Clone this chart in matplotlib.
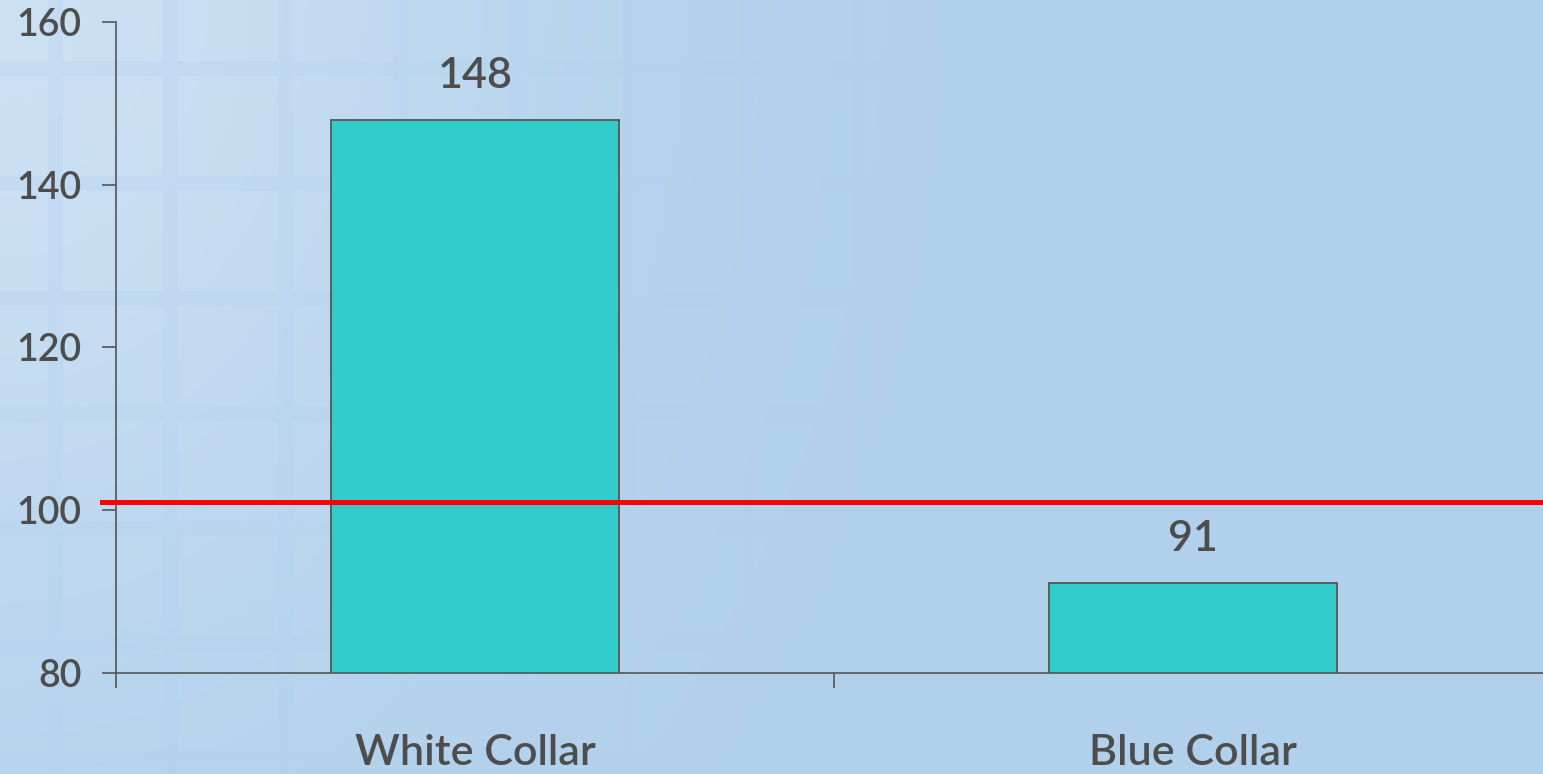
import numpy as np
import matplotlib
matplotlib.use("Agg")
import matplotlib.pyplot as plt

# data
categories = ["White Collar", "Blue Collar"]
values = [148, 91]
reference = 101
yticks = [80, 100, 120, 140, 160]

txt = "#4d4d4d"
plt.rcParams['font.family'] = ['Lato', 'DejaVu Sans']
plt.rcParams['font.weight'] = 'semibold'

fig = plt.figure(figsize=(15.43, 7.74), dpi=100)

# background: light blue with a faded window-grid pattern in the top-left
h, w = 774, 1543
yy, xx = np.mgrid[0:h, 0:w]
base = np.array([0.694, 0.816, 0.925])
light = np.array([0.80, 0.88, 0.955])
fade = np.exp(-((xx / 520.0) ** 2 + (yy / 650.0) ** 2))
img = base + (light - base) * fade[..., None]
gx = np.abs(((xx - 55) % 115) - 57.5)
gy = np.abs(((yy - 68) % 115) - 57.5)
band = ((gx > 50) | (gy > 50)).astype(float)
img = img - band[..., None] * 0.028 * fade[..., None] * np.array([1.0, 0.6, 0.2])
bg = fig.add_axes([0, 0, 1, 1], zorder=-1)
bg.imshow(np.clip(img, 0, 1), aspect="auto", interpolation="bilinear")
bg.axis("off")

ax = fig.add_axes([116 / 1543, 101 / 774, 1436 / 1543, 651 / 774])
ax.patch.set_alpha(0)

x = np.arange(len(categories))
bars = ax.bar(x, values, width=0.4, color="#33cccc", edgecolor="#555555",
              linewidth=1.3, zorder=2)
for b, v in zip(bars, values):
    ax.annotate(str(v), (b.get_x() + b.get_width() / 2, v), xytext=(0, 18),
                textcoords="offset points", ha="center", va="bottom",
                fontsize=31, color=txt)

ax.axhline(reference, xmin=-0.01, xmax=1, color="#ff0000", linewidth=3.6,
           clip_on=False, zorder=3)

ax.set_xlim(-0.5, len(categories) - 0.5)
ax.set_ylim(80, 160)
ax.set_yticks(yticks)
ax.set_xticks(np.arange(len(categories) + 1) - 0.5)
ax.set_xticklabels([])
ax.set_xticks(x, minor=True)
ax.set_xticklabels(categories, minor=True)
ax.tick_params(axis="x", which="minor", length=0, pad=44, labelsize=31,
               labelcolor=txt)
ax.tick_params(axis="x", which="major", length=11, width=1.2, color="#555555",
               direction="out")
ax.tick_params(axis="y", length=10, width=1.2, color="#555555", pad=15,
               labelsize=27, labelcolor=txt)

for s in ["top", "right"]:
    ax.spines[s].set_visible(False)
for s in ["left", "bottom"]:
    ax.spines[s].set_color("#555555")
    ax.spines[s].set_linewidth(1.2)

fig.savefig("out.png", dpi=100)
